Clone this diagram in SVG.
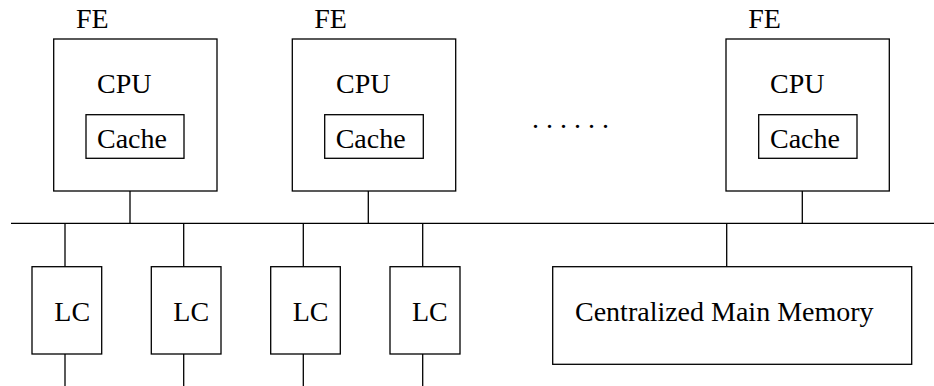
<svg xmlns="http://www.w3.org/2000/svg" width="934" height="386" viewBox="0 0 934 386">
<style>
rect{fill:#fff;stroke:#000;stroke-width:1.3}
line{stroke:#000;stroke-width:1.3}
text{font-family:"Liberation Serif","Times New Roman",serif;font-size:28px;fill:#000}
</style>
<rect x="0" y="0" width="934" height="386" style="stroke:none"/>
<g id="connectors">
<line x1="11" y1="223.3" x2="934" y2="223.3"/>
<line x1="130" y1="191" x2="130" y2="223.3"/>
<line x1="368.3" y1="191" x2="368.3" y2="223.3"/>
<line x1="802.3" y1="191" x2="802.3" y2="223.3"/>
<line x1="65" y1="223.3" x2="65" y2="266.7"/>
<line x1="183.7" y1="223.3" x2="183.7" y2="266.7"/>
<line x1="303.3" y1="223.3" x2="303.3" y2="266.7"/>
<line x1="422.7" y1="223.3" x2="422.7" y2="266.7"/>
<line x1="726.7" y1="223.3" x2="726.7" y2="266.7"/>
<line x1="65" y1="354" x2="65" y2="386"/>
<line x1="183.7" y1="354" x2="183.7" y2="386"/>
<line x1="303.3" y1="354" x2="303.3" y2="386"/>
<line x1="422.7" y1="354" x2="422.7" y2="386"/>
</g>
<g id="fe1">
<text x="76" y="27.7">FE</text>
<rect x="53.7" y="39" width="163.3" height="152"/>
<text x="97" y="93.3">CPU</text>
<g id="cache1"><rect x="86" y="114.7" width="98" height="43.6"/><text x="97" y="147.7">Cache</text></g>
</g>
<g id="fe2">
<text x="314.3" y="27.7">FE</text>
<rect x="292.3" y="39" width="163.4" height="152"/>
<text x="336" y="93.3">CPU</text>
<g id="cache2"><rect x="324.7" y="114.7" width="98.6" height="43.6"/><text x="335.7" y="147.7">Cache</text></g>
</g>
<g id="ellipsis"><text x="532" y="128" style="letter-spacing:0">. . . . . .</text></g>
<g id="fe3">
<text x="748.3" y="27.7">FE</text>
<rect x="726" y="39" width="163.3" height="152"/>
<text x="770" y="93.3">CPU</text>
<g id="cache3"><rect x="758.7" y="114.7" width="98.3" height="43.6"/><text x="770" y="147.7">Cache</text></g>
</g>
<g id="lc1"><rect x="32" y="266.7" width="69.7" height="87.3"/><text x="54.3" y="320.7">LC</text></g>
<g id="lc2"><rect x="151.3" y="266.7" width="69.7" height="87.3"/><text x="173.3" y="320.7">LC</text></g>
<g id="lc3"><rect x="270.7" y="266.7" width="69.6" height="87.3"/><text x="292.7" y="320.7">LC</text></g>
<g id="lc4"><rect x="390" y="266.7" width="70" height="87.3"/><text x="412" y="320.7">LC</text></g>
<g id="memory"><rect x="552.7" y="266.7" width="359" height="97.6"/><text x="575" y="320.7">Centralized Main Memory</text></g>
</svg>
